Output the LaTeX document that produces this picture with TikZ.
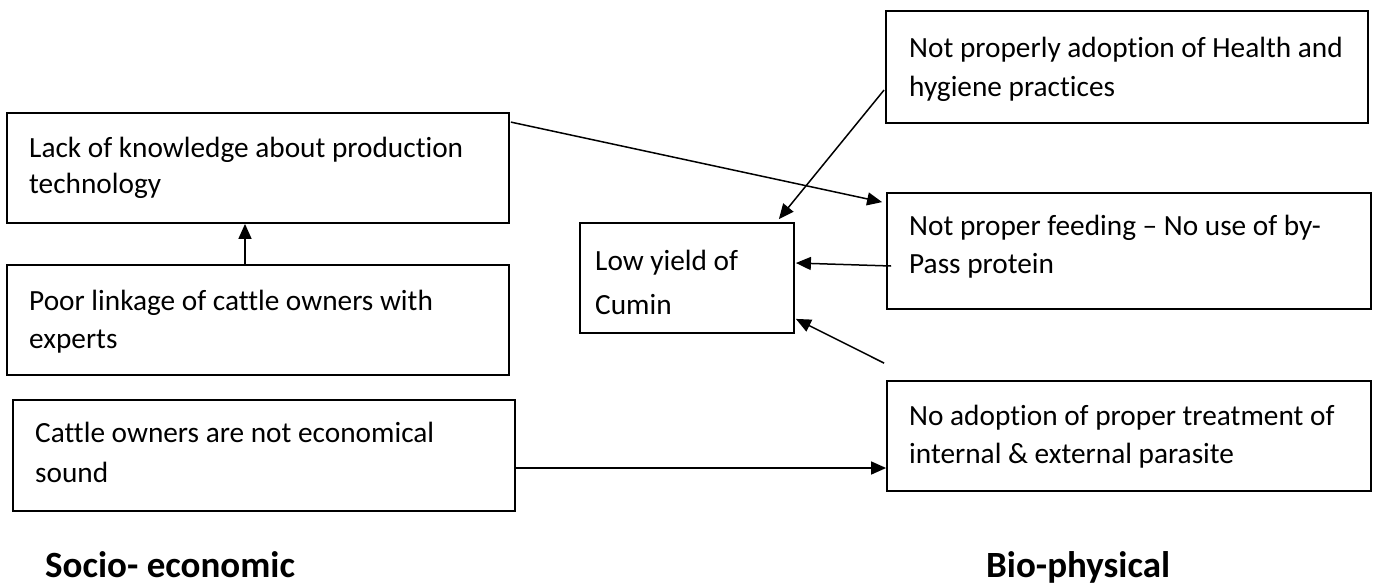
\documentclass[tikz,border=0pt]{standalone}
\usepackage{fontspec}
\setmainfont{Carlito}[Ligatures=NoCommon]
\usetikzlibrary{arrows.meta,calc}
\newcommand{\twoln}[3]{\vtop{\baselineskip=#1pt\hbox{#2}\hbox{#3}}}
\begin{document}
\begin{tikzpicture}[x=1pt,y=-1pt,
  box/.style={draw=black,line width=1.8pt,inner sep=0pt,fill=none},
  txt/.style={anchor=base west,inner sep=0pt,font=\fontsize{29.3}{37}\selectfont},
  lbl/.style={anchor=base west,inner sep=0pt,font=\bfseries\fontsize{37}{44}\selectfont},
  arr/.style={line width=1.5pt,-{Triangle[length=15pt,width=13pt]}}]
\useasboundingbox (0,0) rectangle (1378,584);
% boxes
\node[box,minimum width=502pt,minimum height=110pt] (A) at (258,168) {};
\node[box,minimum width=502pt,minimum height=110pt] (B) at (258,320) {};
\node[box,minimum width=502pt,minimum height=111pt] (C) at (264,455.5) {};
\node[box,minimum width=214pt,minimum height=110pt] (D) at (687,278) {};
\node[box,minimum width=482pt,minimum height=112pt] (E) at (1127,67) {};
\node[box,minimum width=484pt,minimum height=116pt] (F) at (1129,251) {};
\node[box,minimum width=484pt,minimum height=110pt] (G) at (1129,436) {};
% texts
\node[txt] (tA) at (29,157) {\twoln{36}{Lack of knowledge about production}{technology}};
\node[txt] (tB) at (29,310) {\twoln{38}{Poor linkage of cattle owners with}{experts}};
\node[txt] (tC) at (35,442) {\twoln{40}{Cattle owners are not economical}{sound}};
\node[txt] (tD) at (595,270) {\twoln{44}{Low yield of}{Cumin}};
\node[txt] (tE) at (909,57) {\twoln{39}{Not properly adoption of Health and}{hygiene practices}};
\node[txt] (tF) at (909,235) {\twoln{38}{Not proper feeding – No use of by-}{Pass protein}};
\node[txt] (tG) at (909,425) {\twoln{38}{No adoption of proper treatment of}{internal \& external parasite}};
\node[lbl] (socio) at (45,577) {Socio- economic};
\node[lbl] (bio) at (986,577) {Bio-physical};
% connectors
\draw[arr] ($(B.north)+(-13,0)$) -- ($(A.south)+(-13,0)$);
\draw[arr] ($(A.north east)+(1,10)$) -- ($(F.north west)+(-4,10)$);
\draw[arr] ($(E.west)+(-1,23)$) -- ($(D.north east)+(-16,-3)$);
\draw[arr] ($(F.west)+(5,15)$) -- ($(D.east)+(1,-15)$);
\coordinate (g4) at ($(G.north west)+(-2,-17)$);
\draw[arr] (g4) -- ($(D.south east)+(1,-15)$);
\coordinate (c5) at ($(C.east)+(0,12.5)$);
\draw[arr] (c5) -- (c5 -| G.west);
\end{tikzpicture}
\end{document}
